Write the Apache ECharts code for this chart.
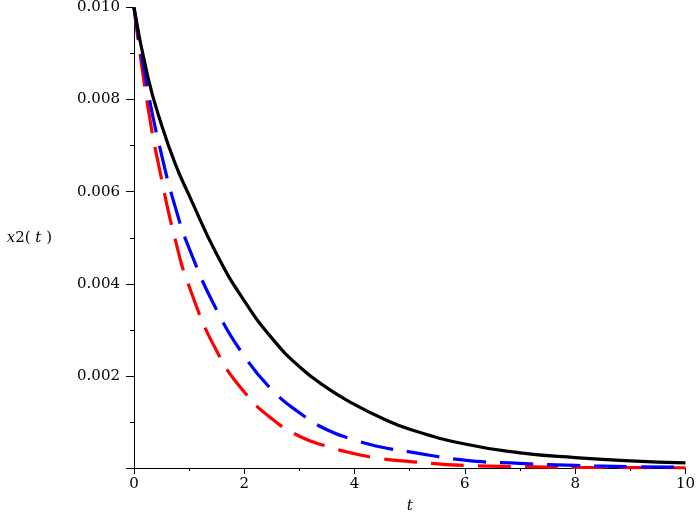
<!DOCTYPE html>
<html>
<head>
<meta charset="utf-8">
<script src="https://cdn.jsdelivr.net/npm/echarts@6/dist/echarts.min.js"></script>
<style>html,body{margin:0;padding:0;background:#fff;}#chart{width:698px;height:519px;}</style>
</head>
<body>
<div id="chart"></div>
<script>
// t values (x axis)
var tValues = [0, 0.25, 0.5, 0.75, 1, 1.5, 2, 2.5, 3, 3.5, 4, 4.5, 5, 6, 7, 8, 9, 10];
// black solid curve
var blackValues = [0.0100, 0.00850, 0.00745, 0.00660, 0.00592, 0.00464, 0.00363, 0.00282, 0.00220, 0.00174, 0.00138, 0.00108, 0.00084, 0.00052, 0.00033, 0.000225, 0.000155, 0.00011];
// blue dashed curve
var blueValues = [0.0100, 0.00820, 0.00680, 0.00566, 0.00477, 0.00343, 0.00243, 0.00170, 0.00120, 0.00083, 0.00061, 0.00045, 0.00035, 0.00017, 0.00010, 0.000055, 0.00003, 0.000015];
// red dashed curve
var redValues = [0.0100, 0.00785, 0.00627, 0.00495, 0.00394, 0.00254, 0.00165, 0.00107, 0.00069, 0.00047, 0.00031, 0.00020, 0.00014, 0.000055, 0.00003, 0.000015, 0.000008, 0.000004];
// tick labels
var xTickLabels = ['0', '2', '4', '6', '8', '10'];
var yTickLabels = ['', '0.002', '0.004', '0.006', '0.008', '0.010'];

function pairs(xs, ys) { return xs.map(function (x, i) { return [x, ys[i]]; }); }

var FONT = 'DejaVu Serif';
var chart = echarts.init(document.getElementById('chart'), null, {renderer: 'canvas'});
chart.setOption({
  animation: false,
  backgroundColor: '#ffffff',
  grid: {left: 134, right: 12, top: 5, bottom: 44, containLabel: false},
  xAxis: {
    type: 'value', min: 0, max: 10, interval: 2,
    name: 't', nameLocation: 'middle', nameGap: 31,
    nameTextStyle: {fontFamily: FONT, fontStyle: 'italic', fontSize: 15, color: '#000'},
    axisLine: {show: true, onZero: false, lineStyle: {color: '#000', width: 1}},
    axisTick: {show: true, inside: false, length: 6, lineStyle: {color: '#000'}},
    minorTick: {show: true, splitNumber: 2, length: 3, lineStyle: {color: '#000'}},
    splitLine: {show: false},
    axisLabel: {
      fontFamily: FONT, fontSize: 15, color: '#000', margin: 9,
      formatter: function (v) { return xTickLabels[Math.round(v / 2)]; }
    }
  },
  yAxis: {
    type: 'value', min: 0, max: 0.010, interval: 0.002,
    name: '{i|x}{n|2( }{i|t}{n| )}', nameLocation: 'middle', nameRotate: 0, nameGap: 82,
    nameTextStyle: {
      fontFamily: FONT, fontSize: 15, color: '#000',
      rich: {
        i: {fontFamily: FONT, fontStyle: 'italic', fontSize: 15, color: '#000'},
        n: {fontFamily: FONT, fontSize: 15, color: '#000'}
      }
    },
    axisLine: {show: true, onZero: false, lineStyle: {color: '#000', width: 1}},
    axisTick: {show: true, inside: false, length: 8, lineStyle: {color: '#000'}},
    minorTick: {show: true, splitNumber: 2, length: 4, lineStyle: {color: '#000'}},
    splitLine: {show: false},
    axisLabel: {
      fontFamily: FONT, fontSize: 15, color: '#000', margin: 14,
      formatter: function (v) { return yTickLabels[Math.round(v / 0.002)]; }
    }
  },
  series: [
    {
      type: 'line', data: pairs(tValues, redValues), showSymbol: false, smooth: 0.5,
      lineStyle: {color: '#ff0000', width: 3.2, type: [33, 14], cap: 'butt'}, z: 2
    },
    {
      type: 'line', data: pairs(tValues, blueValues), showSymbol: false, smooth: 0.5,
      lineStyle: {color: '#0000ff', width: 3.2, type: [33, 14], cap: 'butt'}, z: 3
    },
    {
      type: 'line', data: pairs(tValues, blackValues), showSymbol: false, smooth: 0.5,
      lineStyle: {color: '#000000', width: 3.2, type: 'solid'}, z: 4
    }
  ]
});
</script>
</body>
</html>
